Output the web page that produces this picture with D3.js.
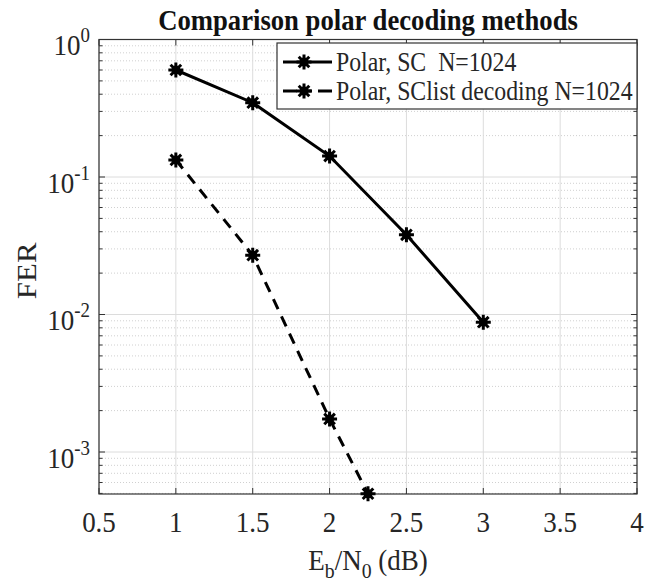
<!DOCTYPE html>
<html>
<head>
<meta charset="utf-8">
<script src="https://cdn.jsdelivr.net/npm/d3@7"></script>
<style>
  body { margin: 0; background: #fff; }
  svg text { font-family: "Liberation Serif", "Times New Roman", serif; fill: #262626; white-space: pre; }
</style>
</head>
<body>
<div id="chart-area"></div>
<script>
// data
var ebn0 = [1, 1.5, 2, 2.5, 3];
var ferSC = [0.6, 0.347, 0.142, 0.038, 0.0088];
var ebn0List = [1, 1.5, 2, 2.25];
var ferSCList = [0.133, 0.027, 0.00174, 0.000497];
var seriesNames = ["Polar, SC  N=1024", "Polar, SClist decoding N=1024"];
var xTicks = [0.5, 1, 1.5, 2, 2.5, 3, 3.5, 4];
var yTicks = [1e-3, 1e-2, 1e-1, 1];

var chartWidth = 656,
    chartHeight = 585;

var margin = { top: 39.5, right: 19, bottom: 91, left: 99 };

var width = chartWidth - margin.left - margin.right,
    height = chartHeight - margin.top - margin.bottom;

// the picture is squeezed a bit sideways, so text is too
var squeeze = 0.9;

var svg = d3.select("#chart-area").append("svg")
    .attr("width", chartWidth)
    .attr("height", chartHeight);

var g = svg.append("g")
    .attr("transform", "translate(" + margin.left + "," + margin.top + ")");

function at(px, py, sx) {
    return "translate(" + px + "," + py + ") scale(" + (sx || squeeze) + ",1)";
}

// scales
var x = d3.scaleLinear()
    .domain([0.5, 4])
    .range([0, width]);

var y = d3.scaleLog()
    .domain([0.000495, 1])
    .range([height, 0]);

// minor values for the log grid
var minor = [];
for (var e = -4; e < 0; e++) {
    for (var k = 2; k <= 9; k++) {
        var v = k * Math.pow(10, e);
        if (v >= y.domain()[0] && v <= 1) minor.push(v);
    }
}

// grid
g.selectAll(".minor-grid").data(minor).enter().append("line")
    .attr("x1", 0).attr("x2", width)
    .attr("y1", d => y(d)).attr("y2", d => y(d))
    .attr("stroke", "#c4c4c4")
    .attr("stroke-width", 0.8)
    .attr("stroke-dasharray", "1,2");

g.selectAll(".ygrid").data(yTicks).enter().append("line")
    .attr("x1", 0).attr("x2", width)
    .attr("y1", d => y(d)).attr("y2", d => y(d))
    .attr("stroke", "#dcdcdc")
    .attr("stroke-width", 1);

g.selectAll(".xgrid").data(xTicks).enter().append("line")
    .attr("x1", d => x(d)).attr("x2", d => x(d))
    .attr("y1", 0).attr("y2", height)
    .attr("stroke", "#dcdcdc")
    .attr("stroke-width", 1);

// axes box and ticks
var tickLen = 6;
g.selectAll(".ytick").data(yTicks).enter().append("path")
    .attr("d", d => "M0," + y(d) + "h" + tickLen + "M" + width + "," + y(d) + "h" + (-tickLen))
    .attr("stroke", "#333");
g.selectAll(".yminor").data(minor).enter().append("path")
    .attr("d", d => "M0," + y(d) + "h" + 3.5 + "M" + width + "," + y(d) + "h" + (-3.5))
    .attr("stroke", "#333");
g.selectAll(".xtick").data(xTicks).enter().append("path")
    .attr("d", d => "M" + x(d) + "," + height + "v" + (-tickLen) + "M" + x(d) + ",0v" + tickLen)
    .attr("stroke", "#333");

g.append("rect")
    .attr("width", width)
    .attr("height", height)
    .attr("fill", "none")
    .attr("stroke", "#333")
    .attr("stroke-width", 1.2);

// tick labels
g.selectAll(".xlabel").data(xTicks).enter().append("text")
    .attr("transform", d => at(x(d), height + 38))
    .attr("text-anchor", "middle")
    .style("font-size", "30px")
    .text(d => d);

var yLab = g.selectAll(".ylabel").data(yTicks).enter().append("text")
    .attr("transform", d => at(-9, y(d) + 15.5))
    .attr("text-anchor", "end")
    .style("font-size", "30px");
yLab.append("tspan").text("10");
yLab.append("tspan")
    .attr("dy", -13)
    .style("font-size", "21px")
    .text(d => Math.round(Math.log10(d)));

// axis titles
svg.append("text")
    .attr("transform", "translate(36," + (margin.top + height / 2 + 4) + ") rotate(-90) scale(1," + squeeze + ")")
    .attr("text-anchor", "middle")
    .style("font-size", "31px")
    .text("FER");

var xt = svg.append("text")
    .attr("transform", at(margin.left + width / 2, 570))
    .attr("text-anchor", "middle")
    .style("font-size", "30px");
xt.append("tspan").text("E");
xt.append("tspan").attr("dy", 8).style("font-size", "22px").text("b");
xt.append("tspan").attr("dy", -8).text("/N");
xt.append("tspan").attr("dy", 8).style("font-size", "22px").text("0");
xt.append("tspan").attr("dy", -8).text(" (dB)");

// title
svg.append("text")
    .attr("transform", at(margin.left + width / 2, 30, 0.89))
    .attr("text-anchor", "middle")
    .style("font-size", "30px")
    .style("font-weight", "bold")
    .style("fill", "#111")
    .text("Comparison polar decoding methods");

// lines
var line = d3.line()
    .x(d => x(d[0]))
    .y(d => y(d[1]));

var scData = ebn0.map((d, i) => [d, ferSC[i]]);
var listData = ebn0List.map((d, i) => [d, ferSCList[i]]);

g.append("path")
    .datum(scData)
    .attr("d", line)
    .attr("fill", "none")
    .attr("stroke", "#000")
    .attr("stroke-width", 3);

g.append("path")
    .datum(listData)
    .attr("d", line)
    .attr("fill", "none")
    .attr("stroke", "#000")
    .attr("stroke-width", 3)
    .attr("stroke-dasharray", "11,8");

// asterisk markers
function star(r) {
    var p = "";
    for (var a = 0; a < 4; a++) {
        var t = a * Math.PI / 4;
        p += "M" + (-r * Math.cos(t)) + "," + (-r * Math.sin(t)) + "L" + (r * Math.cos(t)) + "," + (r * Math.sin(t));
    }
    return p;
}

function addMarker(sel) {
    sel.append("circle").attr("r", 4.5).attr("fill", "#000");
    sel.append("path").attr("d", star(7.5)).attr("stroke", "#000").attr("stroke-width", 3);
}

function drawMarkers(data) {
    var m = g.append("g").selectAll("g").data(data).enter().append("g")
        .attr("transform", d => "translate(" + x(d[0]) + "," + y(d[1]) + ")");
    addMarker(m);
}
drawMarkers(scData);
drawMarkers(listData);

// legend
var legX = 277, legY = 43, legW = 637 - 277, legH = 66;
var legend = svg.append("g");
legend.append("rect")
    .attr("x", legX).attr("y", legY)
    .attr("width", legW).attr("height", legH)
    .attr("fill", "#fff")
    .attr("stroke", "#333")
    .attr("stroke-width", 1.2);

seriesNames.forEach(function(name, i) {
    var ly = legY + 19 + i * 29;
    legend.append("line")
        .attr("x1", legX + 6).attr("x2", legX + 55)
        .attr("y1", ly).attr("y2", ly)
        .attr("stroke", "#000")
        .attr("stroke-width", 3)
        .attr("stroke-dasharray", i === 1 ? "14,6,9,6,14" : null);
    var mk = legend.append("g").attr("transform", "translate(" + (legX + 27) + "," + ly + ")");
    addMarker(mk);
    legend.append("text")
        .attr("transform", at(legX + 59, ly + 9, 0.85))
        .style("font-size", "28px")
        .text(name);
});
</script>
</body>
</html>
